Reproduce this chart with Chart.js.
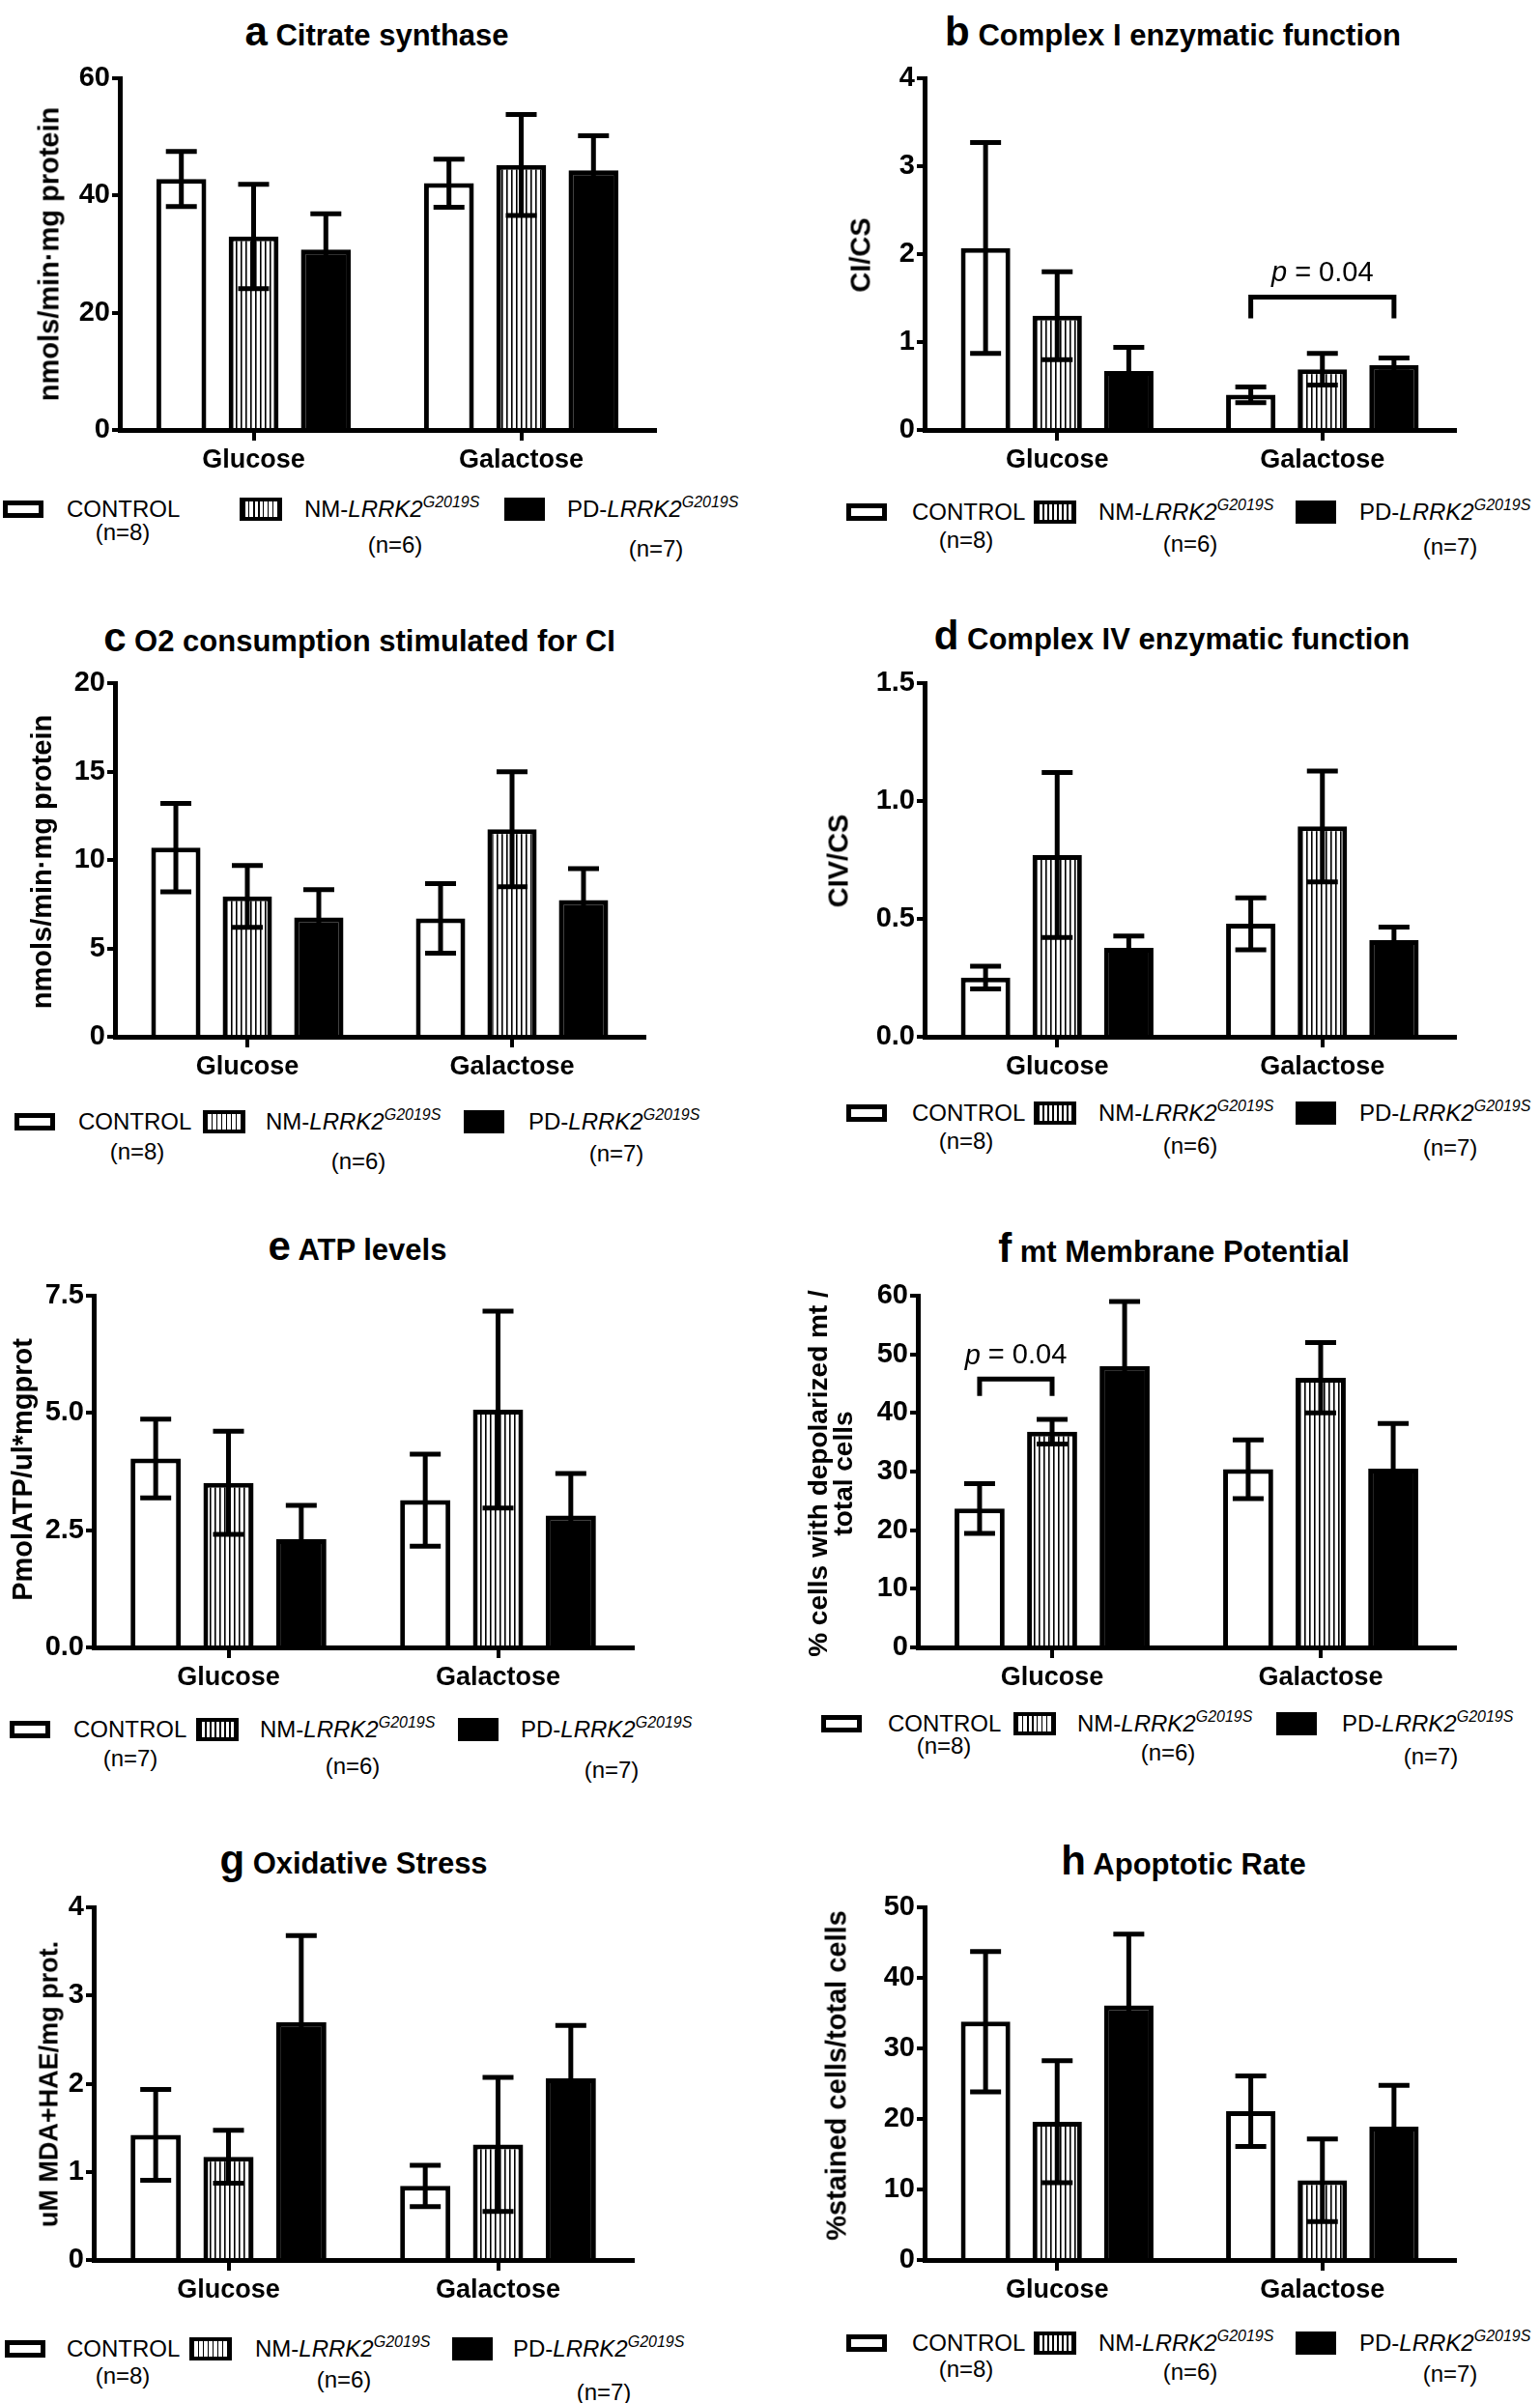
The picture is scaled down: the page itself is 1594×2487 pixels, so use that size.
<!DOCTYPE html>
<html><head><meta charset="utf-8">
<script src="https://cdn.jsdelivr.net/npm/chart.js@4.4.1/dist/chart.umd.min.js"></script>
<style>
html,body{margin:0;padding:0;background:#fff;}
body{width:1594px;height:2487px;position:relative;overflow:hidden;font-family:'Liberation Sans',Arial,sans-serif;color:#000;}
.abs{position:absolute;white-space:nowrap;line-height:1;}
.title{font-weight:bold;font-size:31px;transform:translate(-50%,-50%);}
.title .L{font-size:42px;}
.ytitle{font-weight:bold;font-size:29px;transform:translate(-50%,-50%) rotate(-90deg);text-align:center;}
.leg{font-size:24px;transform:translateY(-50%);}
.leg .sup{font-size:16px;position:relative;top:-10px;font-style:italic;}
.nlab{font-size:24px;transform:translate(-50%,-50%);}
.box{position:absolute;box-sizing:border-box;}
.b0{width:42px;height:18px;border:5px solid #000;background:#fff;}
.b1{width:44px;height:24px;border:4px solid #000;background:repeating-linear-gradient(90deg,#000 0 1.5px,#fff 1.5px 5px);}
.b2{width:42px;height:24px;background:#000;}
canvas{position:absolute;}
</style></head><body>
<script>
// ---------------- DATA ----------------
const categories = ['Glucose', 'Galactose'];
const groupPrefix = ['CONTROL', 'NM-', 'PD-'];
const gene = 'LRRK2';
const variant = 'G2019S';

const panelLetters = ['a','b','c','d','e','f','g','h'];
const panelTitles = ['Citrate synthase','Complex I enzymatic function','O2 consumption stimulated for CI','Complex IV enzymatic function','ATP levels','mt Membrane Potential','Oxidative Stress','Apoptotic Rate'];
const yTitles = ['nmols/min\u00b7mg protein','CI/CS','nmols/min\u00b7mg protein','CIV/CS','PmolATP/ul*mgprot','% cells with depolarized mt /<br>total cells','uM MDA+HAE/mg prot.','%stained cells/total cells'];

// rows = series (CONTROL, NM, PD); columns = categories (Glucose, Galactose)
const aMeans  = [[42.8, 42.1], [33.0, 45.2], [30.8, 44.3]];
const aErrors = [[4.7, 4.1], [8.9, 8.6], [6.1, 5.9]];
const aTicks  = ['0', '20', '40', '60'];

const bMeans  = [[2.07, 0.40], [1.30, 0.69], [0.67, 0.74]];
const bErrors = [[1.20, 0.09], [0.50, 0.18], [0.27, 0.08]];
const bTicks  = ['0', '1', '2', '3', '4'];

const cMeans  = [[10.7, 6.69], [7.94, 11.74], [6.75, 7.73]];
const cErrors = [[2.5, 1.97], [1.75, 3.25], [1.57, 1.78]];
const cTicks  = ['0', '5', '10', '15', '20'];

const dMeans  = [[0.251, 0.479], [0.771, 0.892], [0.377, 0.410]];
const dErrors = [[0.048, 0.110], [0.350, 0.235], [0.050, 0.055]];
const dTicks  = ['0.0', '0.5', '1.0', '1.5'];

const eMeans  = [[4.03, 3.14], [3.51, 5.07], [2.31, 2.81]];
const eErrors = [[0.84, 0.98], [1.10, 2.10], [0.72, 0.90]];
const eTicks  = ['0.0', '2.5', '5.0', '7.5'];

const fMeans  = [[23.7, 30.4], [36.8, 46.0], [48.0, 30.5]];
const fErrors = [[4.25, 5.0], [2.1, 6.0], [11.0, 7.7]];
const fTicks  = ['0', '10', '20', '30', '40', '50', '60'];

const gMeans  = [[1.42, 0.84], [1.17, 1.31], [2.70, 2.06]];
const gErrors = [[0.515, 0.235], [0.30, 0.76], [0.98, 0.60]];
const gTicks  = ['0', '1', '2', '3', '4'];

const hMeans  = [[33.8, 21.1], [19.6, 11.3], [36.1, 18.9]];
const hErrors = [[9.95, 5.0], [8.65, 5.85], [10.1, 5.85]];
const hTicks  = ['0', '10', '20', '30', '40', '50'];

const nDefault = ['(n=8)', '(n=6)', '(n=7)'];
const nATP     = ['(n=7)', '(n=6)', '(n=7)'];

// significance annotations: [series, category] ends, bracket level, drop level, text level
const bSig = {from:[0,1], to:[2,1], level:1.51, drop:1.27, textLevel:1.78, text:['p',' = 0.04']};
const fSig = {from:[0,0], to:[1,0], level:45.8, drop:42.9, textLevel:49.7, text:['p',' = 0.04']};

// ---------------- LAYOUT ----------------
const FONT = "'Liberation Sans', Arial, sans-serif";
const plotBox = [
  {ax:124, top:81,   zero:445,  xend:678},
  {ax:957, top:81,   zero:445,  xend:1506},
  {ax:119, top:707,  zero:1073, xend:667},
  {ax:957, top:707,  zero:1073, xend:1506},
  {ax:97,  top:1341, zero:1705, xend:655},
  {ax:950, top:1341, zero:1705, xend:1506},
  {ax:97,  top:1974, zero:2339, xend:655},
  {ax:957, top:1974, zero:2339, xend:1506}
];
const titlePos = [[390,33],[1214,33],[372,660],[1213,658],[370,1290],[1215,1292],[366,1925],[1225,1926]];
const yTitlePos = [[51,263,29],[891,264,29],[43,892,29],[868,891,29],[23,1521,29],[860,1525,28],[51,2157,27],[866,2148,29]];
const legendPos = [
  {row:527,  box:[3,248,522],    txt:[69,315,587],    n:[[127,551],[409,564],[679,568]]},
  {row:530,  box:[876,1070,1341],txt:[944,1137,1407], n:[[1000,559],[1232,563],[1501,566]]},
  {row:1161, box:[15,210,480],   txt:[81,275,547],    n:[[142,1192],[371,1202],[638,1194]]},
  {row:1152, box:[876,1070,1341],txt:[944,1137,1407], n:[[1000,1181],[1232,1186],[1501,1188]]},
  {row:1790, box:[10,203,474],   txt:[76,269,539],    n:[[135,1820],[365,1828],[633,1832]]},
  {row:1784, box:[850,1049,1321],txt:[919,1115,1389], n:[[977,1807],[1209,1814],[1481,1818]]},
  {row:2431, box:[5,196,468],    txt:[69,264,531],    n:[[127,2459],[356,2463],[625,2476]]},
  {row:2425, box:[876,1070,1341],txt:[944,1137,1407], n:[[1000,2452],[1232,2455],[1501,2457]]}
];

const panelData = [
  [aMeans, aErrors, aTicks, null, nDefault],
  [bMeans, bErrors, bTicks, bSig, nDefault],
  [cMeans, cErrors, cTicks, null, nDefault],
  [dMeans, dErrors, dTicks, null, nDefault],
  [eMeans, eErrors, eTicks, null, nATP],
  [fMeans, fErrors, fTicks, fSig, nDefault],
  [gMeans, gErrors, gTicks, null, nDefault],
  [hMeans, hErrors, hTicks, null, nDefault]
];

function el(cls, html, x, y) {
  const d = document.createElement('div');
  d.className = 'abs ' + cls;
  d.innerHTML = html;
  d.style.left = x + 'px';
  d.style.top = y + 'px';
  document.body.appendChild(d);
  return d;
}

function errPlugin(errors, ann) {
  return {
    id: 'errbars',
    afterDatasetsDraw(chart) {
      const c = chart.ctx, ys = chart.scales.y;
      c.save();
      c.strokeStyle = '#000';
      c.lineWidth = 5;
      chart.data.datasets.forEach((ds, i) => {
        chart.getDatasetMeta(i).data.forEach((bar, j) => {
          const v = ds.data[j], e = errors[i][j];
          const yt = ys.getPixelForValue(v + e), yb = ys.getPixelForValue(v - e);
          c.beginPath();
          c.moveTo(bar.x, yb); c.lineTo(bar.x, yt);
          c.moveTo(bar.x - 16, yt); c.lineTo(bar.x + 16, yt);
          c.moveTo(bar.x - 16, yb); c.lineTo(bar.x + 16, yb);
          c.stroke();
        });
      });
      if (ann) {
        const m1 = chart.getDatasetMeta(ann.from[0]).data[ann.from[1]];
        const m2 = chart.getDatasetMeta(ann.to[0]).data[ann.to[1]];
        const yl = ys.getPixelForValue(ann.level), yd = ys.getPixelForValue(ann.drop);
        c.beginPath();
        c.moveTo(m1.x, yd); c.lineTo(m1.x, yl); c.lineTo(m2.x, yl); c.lineTo(m2.x, yd);
        c.stroke();
        const ty = ys.getPixelForValue(ann.textLevel);
        const xm = (m1.x + m2.x) / 2;
        c.fillStyle = '#000';
        c.textBaseline = 'middle';
        c.textAlign = 'left';
        c.font = 'italic 29px ' + FONT;
        const w1 = c.measureText(ann.text[0]).width;
        c.font = '29px ' + FONT;
        const w2 = c.measureText(ann.text[1]).width;
        const x0 = xm - (w1 + w2) / 2;
        c.font = 'italic 29px ' + FONT;
        c.fillText(ann.text[0], x0, ty);
        c.font = '29px ' + FONT;
        c.fillText(ann.text[1], x0 + w1, ty);
      }
      c.restore();
    }
  };
}

function buildPanel(k) {
  const [means, errors, ticks, ann, nLabels] = panelData[k];
  const L = plotBox[k];
  const cv = document.createElement('canvas');
  const W = L.xend - L.ax + 110 + 15, H = L.zero - L.top + 22 + 55;
  cv.width = W; cv.height = H;
  cv.style.left = (L.ax - 110) + 'px';
  cv.style.top = (L.top - 22) + 'px';
  document.body.appendChild(cv);
  const ctx = cv.getContext('2d');
  const pc = document.createElement('canvas');
  pc.width = 5; pc.height = 8;
  const px = pc.getContext('2d');
  px.fillStyle = '#fff'; px.fillRect(0, 0, 5, 8);
  px.fillStyle = '#000'; px.fillRect(0, 0, 1, 8);
  px.fillStyle = '#666'; px.fillRect(1, 0, 1, 8);
  const fills = ['#fff', ctx.createPattern(pc, 'repeat'), '#000'];
  const tv = ticks.map(Number);
  new Chart(ctx, {
    type: 'bar',
    data: {
      labels: categories,
      datasets: groupPrefix.map((g, i) => ({
        label: i === 0 ? g : g + gene + ' ' + variant,
        data: means[i],
        backgroundColor: fills[i],
        borderColor: '#000',
        borderWidth: 5,
        borderSkipped: 'start',
        categoryPercentage: 0.81,
        barPercentage: 0.69
      }))
    },
    options: {
      responsive: false,
      animation: false,
      events: [],
      layout: {padding: {left: 0, right: 15, top: 22, bottom: 0}},
      plugins: {legend: {display: false}, tooltip: {enabled: false}},
      scales: {
        x: {
          z: 1,
          afterFit: s => { s.height = 55; },
          ticks: {font: {family: FONT, size: 27, weight: 'bold'}, color: '#000', padding: 4, maxRotation: 0, autoSkip: false},
          grid: {offset: false, drawOnChartArea: false, drawTicks: true, tickLength: 11, lineWidth: 4, color: '#000'},
          border: {display: true, width: 5, color: '#000'}
        },
        y: {
          min: tv[0], max: tv[tv.length - 1],
          afterBuildTicks: s => { s.ticks = tv.map(v => ({value: v})); },
          afterFit: s => { s.width = 110; },
          ticks: {callback: (v, i) => ticks[i], font: {family: FONT, size: 29, weight: 'bold'}, color: '#000', padding: 2},
          grid: {drawOnChartArea: false, drawTicks: true, tickLength: 8, lineWidth: 4, color: '#000'},
          border: {display: true, width: 5, color: '#000'}
        }
      }
    },
    plugins: [errPlugin(errors, ann)]
  });

  // title
  el('title', '<span class="L">' + panelLetters[k] + '</span> ' + panelTitles[k], titlePos[k][0], titlePos[k][1]);
  // y title
  const yt = el('ytitle', yTitles[k], yTitlePos[k][0], yTitlePos[k][1]);
  yt.style.fontSize = yTitlePos[k][2] + 'px';
  if (k === 5) yt.style.lineHeight = '26px';
  // legend
  const LG = legendPos[k];
  const boxCls = ['b0', 'b1', 'b2'];
  const boxH = [18, 24, 24];
  for (let i = 0; i < 3; i++) {
    const b = document.createElement('div');
    b.className = 'box ' + boxCls[i];
    b.style.left = LG.box[i] + 'px';
    b.style.top = (LG.row - boxH[i] / 2) + 'px';
    document.body.appendChild(b);
    const html = i === 0 ? groupPrefix[0] : groupPrefix[i] + '<i>' + gene + '</i><span class="sup">' + variant + '</span>';
    el('leg', html, LG.txt[i], LG.row);
    el('nlab', nLabels[i], LG.n[i][0], LG.n[i][1]);
  }
}

for (let k = 0; k < 8; k++) buildPanel(k);
</script>
</body></html>
